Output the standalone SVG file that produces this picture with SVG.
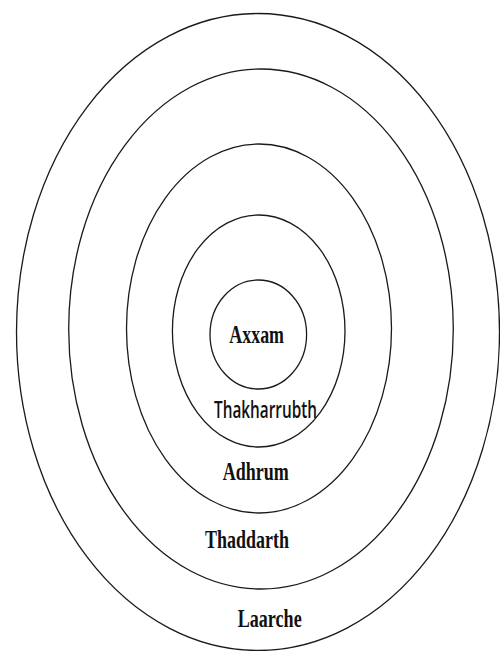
<svg xmlns="http://www.w3.org/2000/svg" width="500" height="651" viewBox="0 0 500 651">
<style>
.ring{fill:none;stroke:#1a1a1a;stroke-width:1.3}
.lbl{font-family:"Liberation Serif","Times New Roman",serif;font-weight:bold;font-size:25px;fill:#111}
.lbs{font-family:"Open Sans","Liberation Sans",Arial,sans-serif;font-weight:600;font-size:23px;fill:#111}
</style>
<rect width="500" height="651" fill="#fff"/>
<g id="laarche"><ellipse class="ring" cx="258" cy="332" rx="241.5" ry="318.5"/><text class="lbl" x="237.7" y="627.3" textLength="64" lengthAdjust="spacingAndGlyphs">Laarche</text></g>
<g id="thaddarth"><ellipse class="ring" cx="261" cy="329" rx="192.3" ry="260"/><text class="lbl" x="205" y="548.3" textLength="84" lengthAdjust="spacingAndGlyphs">Thaddarth</text></g>
<g id="adhrum"><ellipse class="ring" cx="259" cy="328.5" rx="132.5" ry="184.5"/><text class="lbl" x="222.7" y="480" textLength="66" lengthAdjust="spacingAndGlyphs">Adhrum</text></g>
<g id="thakharrubth"><ellipse class="ring" cx="258.7" cy="331" rx="86.3" ry="116"/><text class="lbs" x="214" y="417.7" textLength="103" lengthAdjust="spacingAndGlyphs">Thakharrubth</text></g>
<g id="axxam"><ellipse class="ring" cx="258.3" cy="334.5" rx="48.3" ry="54.5"/><text class="lbl" x="229.3" y="342.7" textLength="54.7" lengthAdjust="spacingAndGlyphs">Axxam</text></g>
</svg>
